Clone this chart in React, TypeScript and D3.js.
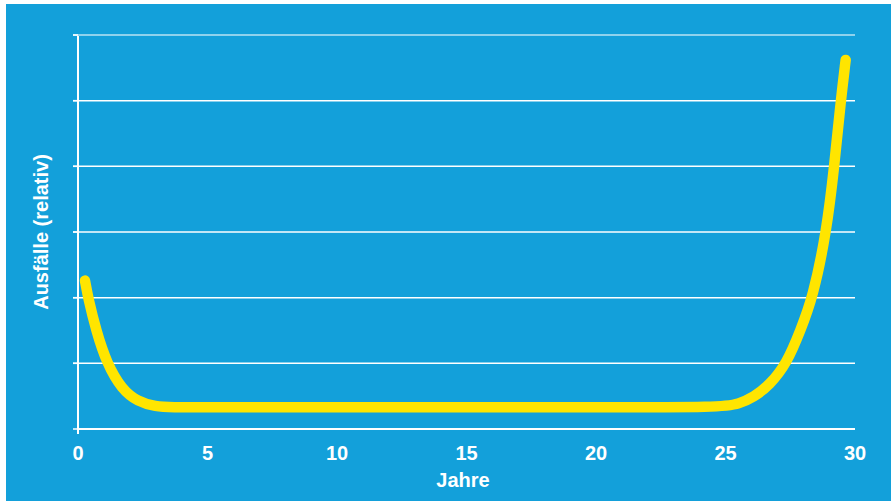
import React from "react";
import * as d3 from "d3";

const years = [0.27, 0.4, 0.7, 1.11, 1.7, 2.3, 3.0, 3.6, 5, 10, 15, 20, 24.9, 25.5, 26.1, 26.68, 27.37, 27.9, 28.37, 28.9, 29.2, 29.45, 29.64];
const failures = [2.26, 1.98, 1.5, 1.0, 0.6, 0.42, 0.34, 0.33, 0.33, 0.33, 0.33, 0.33, 0.33, 0.38, 0.49, 0.66, 1.0, 1.51, 2.0, 3.0, 4.0, 5.0, 5.62];
const xTicks = [0, 5, 10, 15, 20, 25, 30];
const yGrid = [1, 2, 3, 4, 5, 6];
const yTicks = [0, 1, 2, 3, 4, 5, 6];

const W = 891;
const H = 501;
const BG = "#13a0da";
const FONT = "'Liberation Sans', Arial, Helvetica, sans-serif";

export default function App() {
  const x = d3.scaleLinear().domain([0, 30]).range([78, 855]);
  const y = d3.scaleLinear().domain([0, 6]).range([429, 35]);
  const data = years.map((v, i) => [v, failures[i]] as [number, number]);
  const line = d3
    .line<[number, number]>()
    .x((d) => x(d[0]))
    .y((d) => y(d[1]))
    .curve(d3.curveBasis);

  return (
    <svg
      width={W}
      height={H}
      style={{ position: "absolute", left: 0, top: 0, display: "block" }}
    >
      <rect x={0} y={0} width={W} height={H} fill="#ffffff" />
      <rect x={6} y={4} width={W - 6} height={H - 4} fill={BG} />
      {yGrid.map((g) => (
        <line
          key={"g" + g}
          x1={73}
          x2={855}
          y1={y(g)}
          y2={y(g)}
          stroke="#ffffff"
          strokeOpacity={g === 6 ? 0.7 : 1}
          strokeWidth={1.5}
        />
      ))}
      {yTicks.map((t) => (
        <line key={"t" + t} x1={73} x2={78} y1={y(t)} y2={y(t)} stroke="#fff" strokeWidth={1.5} />
      ))}
      <line x1={78} x2={855} y1={y(0)} y2={y(0)} stroke="#fff" strokeWidth={2} />
      <line x1={78} x2={78} y1={y(6) + 1} y2={y(0) + 5} stroke="#fff" strokeWidth={2} />
      {xTicks.map((t) => (
        <text
          key={"x" + t}
          x={x(t)}
          y={460}
          textAnchor="middle"
          fill="#fff"
          fontFamily={FONT}
          fontWeight="bold"
          fontSize={20}
        >
          {t}
        </text>
      ))}
      <text
        x={463}
        y={487}
        textAnchor="middle"
        fill="#fff"
        fontFamily={FONT}
        fontWeight="bold"
        fontSize={20}
      >
        Jahre
      </text>
      <text
        transform={`translate(48,232) rotate(-90)`}
        textAnchor="middle"
        fill="#fff"
        fontFamily={FONT}
        fontWeight="bold"
        fontSize={20}
      >
        Ausfälle (relativ)
      </text>
      <path
        d={line(data) || ""}
        fill="none"
        stroke="#ffe500"
        strokeWidth={10.5}
        strokeLinecap="round"
        strokeLinejoin="round"
      />
    </svg>
  );
}
